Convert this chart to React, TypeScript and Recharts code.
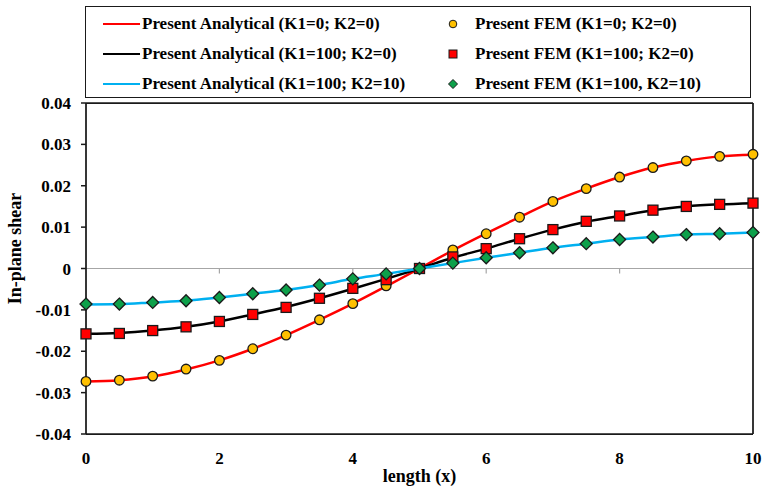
import { ComposedChart, Line, XAxis, YAxis, ReferenceLine } from "recharts"

// x positions along the beam
const lengthX = [0, 0.5, 1, 1.5, 2, 2.5, 3, 3.5, 4, 4.5, 5, 5.5, 6, 6.5, 7, 7.5, 8, 8.5, 9, 9.5, 10]

// analytical solutions
const analyticalK0 = [-0.0273, -0.027, -0.0261, -0.0244, -0.0222, -0.0194, -0.0161, -0.0124, -0.0085, -0.0043, 0, 0.0044, 0.0085, 0.0124, 0.0162, 0.0193, 0.0221, 0.0244, 0.026, 0.0271, 0.0275]
const analyticalK100 = [-0.0158, -0.0156, -0.015, -0.0141, -0.0128, -0.0111, -0.0093, -0.0072, -0.0049, -0.0025, 0, 0.0026, 0.0048, 0.0072, 0.0094, 0.0113, 0.0127, 0.0141, 0.015, 0.0155, 0.0158]
const analyticalK100K10 = [-0.0087, -0.0086, -0.0082, -0.0078, -0.007, -0.0061, -0.0052, -0.004, -0.0025, -0.0013, 0, 0.0013, 0.0026, 0.0038, 0.005, 0.006, 0.007, 0.0076, 0.0082, 0.0084, 0.0087]

// FEM results
const femK0 = [-0.0273, -0.027, -0.026, -0.0243, -0.0222, -0.0194, -0.0161, -0.0124, -0.0085, -0.0042, 0, 0.0045, 0.0084, 0.0124, 0.0162, 0.0193, 0.0221, 0.0244, 0.026, 0.0271, 0.0276]
const femK100 = [-0.0158, -0.0157, -0.015, -0.0141, -0.0128, -0.0111, -0.0094, -0.0072, -0.0048, -0.0027, 0, 0.0028, 0.0048, 0.0072, 0.0094, 0.0114, 0.0127, 0.0141, 0.015, 0.0155, 0.0158]
const femK100K10 = [-0.0086, -0.0086, -0.0082, -0.0078, -0.007, -0.0061, -0.0052, -0.004, -0.0025, -0.0013, 0, 0.0013, 0.0026, 0.0038, 0.005, 0.006, 0.007, 0.0076, 0.0082, 0.0084, 0.0087]

const xTicks = [0, 2, 4, 6, 8, 10]
const yTicks = [-0.04, -0.03, -0.02, -0.01, 0, 0.01, 0.02, 0.03, 0.04]
const zeroLineTicks = [2, 4, 6, 8]

const data = lengthX.map((x, i) => ({
  x,
  anaA: analyticalK0[i],
  anaB: analyticalK100[i],
  anaC: analyticalK100K10[i],
  femA: femK0[i],
  femB: femK100[i],
  femC: femK100K10[i],
}))

const FONT = "'Liberation Serif', 'Times New Roman', serif"
const RED = "#ff0000"
const BLUE = "#00b0f0"
const YELLOW = "#ffc000"
const GREEN = "#0da04a"
const EDGE = "#1a1a1a"

const circleDot = (props: any) => (
  <circle key={`c${props.index}`} cx={props.cx} cy={props.cy} r={4.8} fill={YELLOW} stroke={EDGE} strokeWidth={1.3} />
)
const squareDot = (props: any) => (
  <rect key={`s${props.index}`} x={props.cx - 5} y={props.cy - 5} width={10} height={10} fill={RED} stroke={EDGE} strokeWidth={1.3} />
)
const diamondDot = (props: any) => {
  const { cx, cy } = props
  return (
    <path
      key={`d${props.index}`}
      d={`M${cx},${cy - 6} L${cx + 6},${cy} L${cx},${cy + 6} L${cx - 6},${cy} Z`}
      fill={GREEN}
      stroke={EDGE}
      strokeWidth={1.3}
    />
  )
}

const renderYTitle = (props: any) => {
  const vb = props.viewBox || {}
  const cy = (vb.y ?? 103) + (vb.height ?? 331) / 2 - 20
  return (
    <text
      x={21}
      y={cy}
      transform={`rotate(-90, 21, ${cy})`}
      textAnchor="middle"
      fontFamily={FONT}
      fontWeight="bold"
      fontSize={18}
      fill="#000"
    >
      In-plane shear
    </text>
  )
}

const legendLines = [
  { label: "Present Analytical (K1=0; K2=0)", color: RED },
  { label: "Present Analytical (K1=100; K2=0)", color: "#000" },
  { label: "Present Analytical (K1=100; K2=10)", color: BLUE },
]
const legendMarkers = [
  { label: "Present FEM (K1=0; K2=0)", shape: "circle" },
  { label: "Present FEM (K1=100; K2=0)", shape: "square" },
  { label: "Present FEM (K1=100, K2=10)", shape: "diamond" },
]

function LegendMarker({ shape }: { shape: string }) {
  return (
    <svg width={12} height={12} style={{ position: "absolute", left: -6, top: 4 }}>
      {shape === "circle" && <circle cx={6} cy={6} r={3.8} fill={YELLOW} stroke={EDGE} strokeWidth={1} />}
      {shape === "square" && <rect x={2} y={2} width={8} height={8} fill={RED} stroke={EDGE} strokeWidth={1} />}
      {shape === "diamond" && <path d="M6,1.5 L10.5,6 L6,10.5 L1.5,6 Z" fill={GREEN} stroke={EDGE} strokeWidth={1} />}
    </svg>
  )
}

function ChartLegend() {
  const textStyle = {
    position: "absolute" as const,
    fontFamily: FONT,
    fontWeight: "bold" as const,
    fontSize: 17,
    lineHeight: "20px",
    whiteSpace: "nowrap" as const,
    color: "#000",
  }
  return (
    <div
      style={{
        position: "absolute",
        left: 85,
        top: 6,
        width: 666,
        height: 92,
        border: `1.5px solid ${EDGE}`,
        boxSizing: "border-box",
        background: "#fff",
      }}
    >
      {legendLines.map((item, i) => (
        <div key={item.label} style={{ position: "absolute", left: 0, top: 6.5 + i * 30, width: 330, height: 20 }}>
          <div style={{ position: "absolute", left: 17, top: 9, width: 37, height: 2.5, background: item.color }} />
          <span style={{ ...textStyle, left: 56 }}>{item.label}</span>
        </div>
      ))}
      {legendMarkers.map((item, i) => (
        <div key={item.label} style={{ position: "absolute", left: 367, top: 6.5 + i * 30, width: 290, height: 20 }}>
          <LegendMarker shape={item.shape} />
          <span style={{ ...textStyle, left: 22 }}>{item.label}</span>
        </div>
      ))}
    </div>
  )
}

export default function App() {
  return (
    <div style={{ position: "absolute", left: 0, top: 0, width: 764, height: 491, background: "#fff" }}>
      <ComposedChart width={764} height={491} data={data} margin={{ top: 103, right: 11, bottom: 0, left: 0 }}>
        <XAxis
          dataKey="x"
          type="number"
          domain={[0, 10]}
          ticks={xTicks}
          height={57}
          tickLine={false}
          tickSize={5}
          tickMargin={13}
          axisLine={{ stroke: EDGE, strokeWidth: 1.75 }}
          tick={{ fill: "#000", fontFamily: FONT, fontWeight: "bold", fontSize: 17 }}
          label={{
            value: "length (x)",
            position: "insideBottom",
            offset: 9,
            fill: "#000",
            fontFamily: FONT,
            fontWeight: "bold",
            fontSize: 18,
          }}
        />
        <YAxis
          type="number"
          domain={[-0.04, 0.04]}
          ticks={yTicks}
          width={86}
          tickSize={5}
          tickMargin={10}
          tickLine={{ stroke: EDGE, strokeWidth: 1.5 }}
          axisLine={{ stroke: EDGE, strokeWidth: 1.75 }}
          tick={{ fill: "#000", fontFamily: FONT, fontWeight: "bold", fontSize: 17 }}
          label={renderYTitle}
        />
        <ReferenceLine y={0} stroke="#a6a6a6" strokeWidth={1.2} />
        {zeroLineTicks.map((t) => (
          <ReferenceLine
            key={`zt${t}`}
            segment={[{ x: t, y: 0 }, { x: t, y: -0.0012 }]}
            stroke="#a6a6a6"
            strokeWidth={1.2}
          />
        ))}
        <ReferenceLine y={0.04} stroke={EDGE} strokeWidth={1.75} />
        <ReferenceLine x={10} stroke={EDGE} strokeWidth={1.75} />

        <Line type="monotone" dataKey="anaA" stroke={RED} strokeWidth={2.5} dot={false} isAnimationActive={false} />
        <Line type="monotone" dataKey="anaB" stroke="#000" strokeWidth={2.5} dot={false} isAnimationActive={false} />
        <Line type="monotone" dataKey="anaC" stroke={BLUE} strokeWidth={2.5} dot={false} isAnimationActive={false} />

        <Line dataKey="femA" stroke="none" dot={circleDot} activeDot={false} isAnimationActive={false} />
        <Line dataKey="femB" stroke="none" dot={squareDot} activeDot={false} isAnimationActive={false} />
        <Line dataKey="femC" stroke="none" dot={diamondDot} activeDot={false} isAnimationActive={false} />
      </ComposedChart>
      <ChartLegend />
    </div>
  )
}
